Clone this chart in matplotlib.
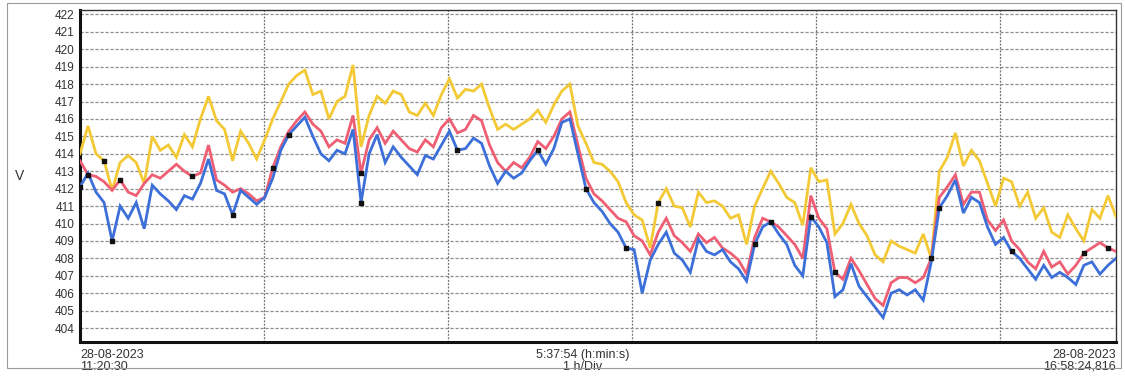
import matplotlib
matplotlib.use("Agg")
import matplotlib.pyplot as plt
import numpy as np
from matplotlib.patches import Rectangle

plt.rcParams["font.family"] = ["Liberation Sans", "DejaVu Sans"]

# recording window: 28-08-2023 11:20:30 -> 16:58:24,816  (5:37:54)
DURATION_H = 5 + 37 / 60 + 54 / 3600
START_LABEL = "28-08-2023\n11:20:30"
END_LABEL = "28-08-2023\n16:58:24,816"
SPAN_LABEL = "5:37:54 (h:min:s)\n1 h/Div"
Y_TICKS = list(range(404, 423))

# phase voltages (V), evenly spaced samples across the window
yellow = [
    414.0, 415.6, 414.0, 413.6, 411.9, 413.5, 413.9, 413.5, 412.3, 415.0,
    414.2, 414.5, 413.8, 415.1, 414.4, 416.0, 417.3, 415.9, 415.4, 413.6,
    415.3, 414.6, 413.7, 414.8, 416.0, 417.0, 418.0, 418.5, 418.8, 417.4,
    417.6, 416.0, 417.0, 417.3, 419.1, 414.4, 416.2, 417.3, 416.9, 417.6,
    417.4, 416.4, 416.2, 416.9, 416.2, 417.4, 418.3, 417.2, 417.7, 417.6,
    418.0, 416.6, 415.4, 415.7, 415.4, 415.7, 416.0, 416.5, 415.8, 416.8,
    417.6, 418.0, 415.6, 414.6, 413.5, 413.4, 413.0, 412.4, 411.2, 410.5,
    410.2, 408.6, 411.2, 412.0, 411.0, 410.9, 409.8, 411.8, 411.2, 411.3,
    411.0, 410.3, 410.5, 408.8, 411.0, 412.0, 413.0, 412.3, 411.5, 411.2,
    409.9, 413.2, 412.4, 412.5, 409.4, 410.0, 411.1, 410.0, 409.3, 408.2,
    407.8, 409.0, 408.7, 408.5, 408.3, 409.4, 408.0, 413.0, 413.8, 415.2,
    413.3, 414.2, 413.6, 412.3, 411.0, 412.6, 412.4, 411.0, 411.8, 410.3,
    410.9, 409.5, 409.2, 410.5, 409.7, 409.0, 410.8, 410.3, 411.6, 410.4,
]
red = [
    413.6, 412.8, 412.7, 412.4, 411.9, 412.5, 411.8, 411.6, 412.3, 412.8,
    412.6, 413.0, 413.4, 413.0, 412.7, 412.9, 414.5, 412.5, 412.2, 411.8,
    412.0, 411.7, 411.3, 411.5, 413.2, 414.4, 415.3, 415.9, 416.4, 415.7,
    415.3, 414.4, 414.8, 414.6, 416.2, 412.9, 414.8, 415.5, 414.6, 415.3,
    414.8, 414.3, 414.1, 414.8, 414.4, 415.5, 416.0, 415.2, 415.4, 416.2,
    415.9, 414.5, 413.5, 413.0, 413.5, 413.2, 413.8, 414.7, 414.3, 415.0,
    416.0, 416.4, 414.5, 412.6, 411.7, 411.3, 410.8, 410.3, 410.1, 409.3,
    409.0, 408.2, 409.5, 410.3, 409.3, 408.9, 408.4, 409.4, 408.9, 409.2,
    408.6, 408.3, 407.9, 407.1, 409.2, 410.3, 410.1, 409.8, 409.3, 408.8,
    408.0, 411.6, 410.3, 409.7, 407.2, 406.8, 408.0, 407.3, 406.5, 405.7,
    405.3, 406.6, 406.9, 406.9, 406.6, 406.9, 408.0, 411.5, 412.1, 412.8,
    411.1, 411.8, 411.8, 410.2, 409.6, 410.2, 409.0, 408.5, 407.8, 407.4,
    408.4, 407.5, 407.8, 407.1, 407.6, 408.3, 408.6, 408.9, 408.6, 408.4,
]
blue = [
    412.1, 412.9, 411.8, 411.2, 409.0, 411.0, 410.3, 411.2, 409.7, 412.2,
    411.7, 411.3, 410.8, 411.6, 411.4, 412.3, 413.7, 411.9, 411.7, 410.5,
    411.9, 411.5, 411.1, 411.5, 412.6, 414.2, 415.1, 415.6, 416.1, 415.0,
    414.0, 413.6, 414.2, 414.0, 415.4, 411.2, 414.0, 415.1, 413.5, 414.4,
    413.8, 413.3, 412.8, 413.9, 413.7, 414.5, 415.3, 414.2, 414.3, 414.9,
    414.6, 413.3, 412.3, 413.0, 412.6, 412.9, 413.6, 414.2, 413.4, 414.3,
    415.8, 416.0, 414.0, 412.0, 411.2, 410.7, 410.0, 409.5, 408.6, 408.5,
    406.0, 407.9, 408.8, 409.5, 408.3, 407.9, 407.2, 409.1, 408.4, 408.2,
    408.5, 407.8, 407.4, 406.7, 408.8, 409.8, 410.1, 409.4, 408.8, 407.6,
    407.0, 410.4, 409.8, 408.9, 405.8, 406.2, 407.7, 406.4, 405.8, 405.2,
    404.6, 406.0, 406.2, 405.9, 406.2, 405.6, 407.8, 410.9, 411.6, 412.5,
    410.6, 411.5, 411.2, 409.8, 408.8, 409.2, 408.4, 408.0, 407.4, 406.8,
    407.6, 406.9, 407.2, 406.9, 406.5, 407.6, 407.8, 407.1, 407.6, 408.0,
]

# event marks: (sample index, trace they sit on)
events = [
    (0, "blue"), (1, "red"), (3, "yellow"), (4, "blue"), (5, "red"),
    (14, "red"), (19, "blue"), (24, "red"), (26, "blue"), (35, "blue"),
    (35, "red"), (47, "blue"), (57, "blue"), (63, "blue"), (68, "blue"),
    (72, "yellow"), (84, "blue"), (86, "red"), (91, "blue"), (94, "red"),
    (106, "red"), (107, "blue"), (116, "blue"), (125, "red"), (128, "red"),
]

COLORS = {"yellow": "#f3c935", "red": "#ee5f74", "blue": "#3d6fd9"}
series = {"yellow": yellow, "red": red, "blue": blue}


def main():
    fig = plt.figure(figsize=(11.25, 3.77), dpi=100)
    fig.patches.append(Rectangle((0.006, 0.024), 0.99, 0.968, transform=fig.transFigure,
                                 fill=False, edgecolor="#9a9a9a", linewidth=0.8))
    ax = fig.add_axes([0.0711, 0.0928, 0.9209, 0.8806])

    t = np.linspace(0, DURATION_H, len(blue))
    for name in ("yellow", "red", "blue"):
        ax.plot(t, series[name], color=COLORS[name], linewidth=2.0, zorder=3,
                solid_joinstyle="miter")

    ex = [t[i] for i, _ in events]
    ey = [series[s][i] for i, s in events]
    ax.scatter(ex, ey, marker="s", s=9, color="#111111", zorder=4)

    ax.set_xlim(0, DURATION_H)
    ax.set_ylim(403.2, 422.25)
    ax.set_yticks(Y_TICKS)
    ax.set_xticks(np.arange(1, 6))
    ax.set_xticklabels([])
    ax.tick_params(axis="y", length=0, labelsize=8.5, pad=4, colors="#333333")
    ax.tick_params(axis="x", length=0)
    ax.grid(axis="y", color="#8c8c8c", linewidth=0.9, linestyle=(0, (2.5, 1.5)), zorder=1)
    ax.grid(axis="x", color="#6e6e6e", linewidth=0.9, linestyle=(0, (1.5, 1.2)), zorder=1)

    for side in ("left", "bottom"):
        ax.spines[side].set_linewidth(2.2)
        ax.spines[side].set_color("#111111")
    for side in ("top", "right"):
        ax.spines[side].set_linewidth(1.0)
        ax.spines[side].set_color("#333333")

    ax.text(-0.058, 0.5, "V", transform=ax.transAxes, fontsize=10, ha="center", va="center",
            color="#333333")
    ax.text(0.0, -0.02, START_LABEL, transform=ax.transAxes, fontsize=9, ha="left",
            va="top", color="#333333", linespacing=1.0)
    ax.text(0.485, -0.02, SPAN_LABEL, transform=ax.transAxes, fontsize=9, ha="center",
            va="top", color="#333333", linespacing=1.0)
    ax.text(1.0, -0.02, END_LABEL, transform=ax.transAxes, fontsize=9, ha="right",
            va="top", color="#333333", linespacing=1.0)

    fig.savefig("out.png", dpi=100)


if __name__ == "__main__":
    main()
